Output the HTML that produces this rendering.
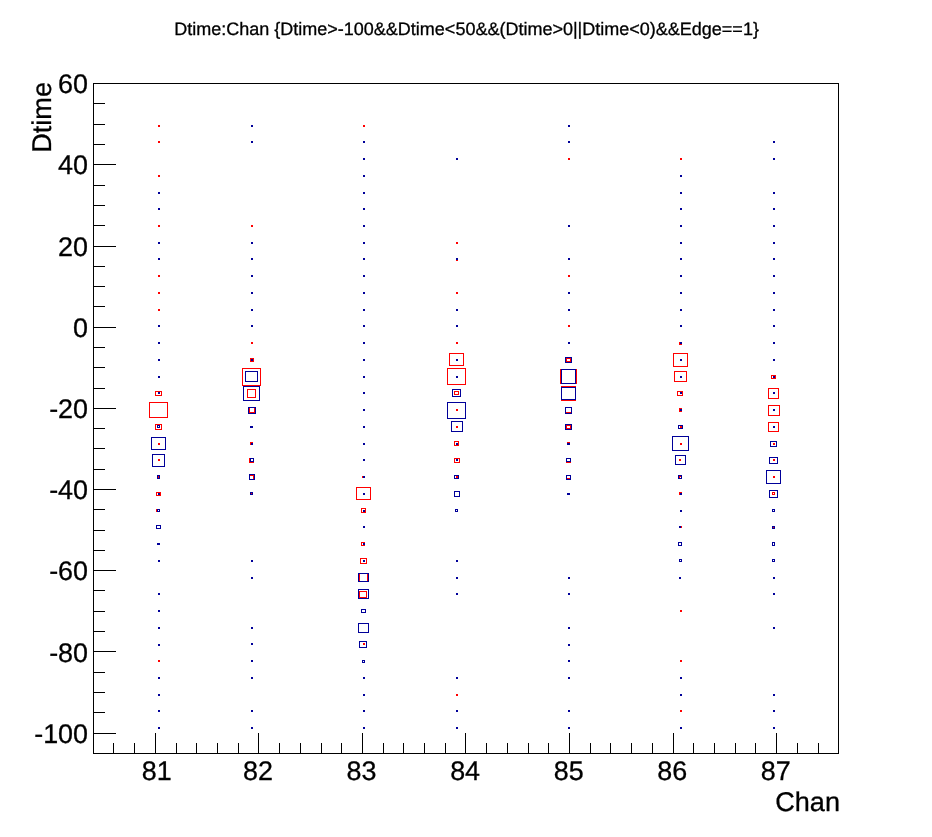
<!DOCTYPE html>
<html><head><meta charset="utf-8"><title>Dtime:Chan</title>
<style>html,body{margin:0;padding:0;background:#fff;}body{width:932px;height:837px;overflow:hidden;font-family:"Liberation Sans",sans-serif;}svg{display:block;will-change:transform;}</style>
</head><body>
<svg width="932" height="837" viewBox="0 0 932 837" shape-rendering="crispEdges">
<rect width="932" height="837" fill="#fff"/>
<path fill="#000" d="M93 83h746v671h-746zM94 84v669h744v-669z"/>
<path fill="#000" d="M113 743h1v10h-1zM134 743h1v10h-1zM155 733h1v20h-1zM176 743h1v10h-1zM196 743h1v10h-1zM217 743h1v10h-1zM238 743h1v10h-1zM258 733h1v20h-1zM279 743h1v10h-1zM300 743h1v10h-1zM321 743h1v10h-1zM341 743h1v10h-1zM362 733h1v20h-1zM383 743h1v10h-1zM403 743h1v10h-1zM424 743h1v10h-1zM445 743h1v10h-1zM465 733h1v20h-1zM486 743h1v10h-1zM507 743h1v10h-1zM528 743h1v10h-1zM548 743h1v10h-1zM569 733h1v20h-1zM590 743h1v10h-1zM610 743h1v10h-1zM631 743h1v10h-1zM652 743h1v10h-1zM673 733h1v20h-1zM693 743h1v10h-1zM714 743h1v10h-1zM735 743h1v10h-1zM755 743h1v10h-1zM776 733h1v20h-1zM797 743h1v10h-1zM818 743h1v10h-1zM94 83h22v1h-22zM94 103h11v1h-11zM94 124h11v1h-11zM94 144h11v1h-11zM94 164h22v1h-22zM94 185h11v1h-11zM94 205h11v1h-11zM94 225h11v1h-11zM94 246h22v1h-22zM94 266h11v1h-11zM94 286h11v1h-11zM94 306h11v1h-11zM94 327h22v1h-22zM94 347h11v1h-11zM94 367h11v1h-11zM94 388h11v1h-11zM94 408h22v1h-22zM94 428h11v1h-11zM94 448h11v1h-11zM94 469h11v1h-11zM94 489h22v1h-22zM94 509h11v1h-11zM94 530h11v1h-11zM94 550h11v1h-11zM94 570h22v1h-22zM94 590h11v1h-11zM94 611h11v1h-11zM94 631h11v1h-11zM94 651h22v1h-22zM94 672h11v1h-11zM94 692h11v1h-11zM94 712h11v1h-11zM94 733h22v1h-22z"/>
<path fill="#ff0000" d="M158 125h2v2h-2zM158 141h2v2h-2zM158 175h2v2h-2zM158 225h2v2h-2zM158 275h2v2h-2zM158 292h2v2h-2zM158 309h2v2h-2zM158 443h2v2h-2zM158 459h2v2h-2zM158 476h2v2h-2zM158 660h2v2h-2zM155 391h7v5h-7zM156 392v3h5v-3zM149 402h19v16h-19zM150 403v14h17v-14zM155 424h7v6h-7zM156 425v4h5v-4zM156 492h5v4h-5zM157 493v2h3v-2zM156 509h4v3h-4zM157 510v1h2v-1zM251 225h2v2h-2zM251 342h2v2h-2zM251 493h2v2h-2zM250 358h4v4h-4zM251 359v2h2v-2zM242 368h19v18h-19zM243 369v16h17v-16zM247 389h9v9h-9zM248 390v7h7v-7zM249 407h6v6h-6zM250 408v4h4v-4zM250 442h3v3h-3zM249 458h5v5h-5zM250 459v3h3v-3zM249 475h5v5h-5zM250 476v3h3v-3zM363 125h2v2h-2zM363 643h2v2h-2zM362 476h3v2h-3zM356 487h15v13h-15zM357 488v11h13v-11zM361 508h5v5h-5zM362 509v3h3v-3zM361 542h4v4h-4zM362 543v2h2v-2zM360 558h7v6h-7zM361 559v4h5v-4zM359 573h9v9h-9zM360 574v7h7v-7zM359 591h8v7h-8zM360 592v5h6v-5zM456 242h2v2h-2zM456 292h2v2h-2zM456 342h2v2h-2zM456 409h2v2h-2zM456 426h2v2h-2zM456 476h2v2h-2zM456 694h2v2h-2zM456 258h2v3h-2zM449 353h15v13h-15zM450 354v11h13v-11zM447 368h19v17h-19zM448 369v15h17v-15zM454 391h5v4h-5zM455 392v2h3v-2zM454 441h5v5h-5zM455 442v3h3v-3zM454 458h6v5h-6zM455 459v3h4v-3zM568 158h2v2h-2zM568 275h2v2h-2zM568 325h2v2h-2zM566 358h5v4h-5zM567 359v2h3v-2zM560 369h17v15h-17zM561 370v13h15v-13zM561 386h15v15h-15zM562 387v13h13v-13zM566 412h5v1h-5zM566 425h5v4h-5zM567 426v2h3v-2zM567 442h3v3h-3zM566 458h5v5h-5zM567 459v3h3v-3zM567 478h3v1h-3zM680 158h2v2h-2zM680 610h2v2h-2zM680 660h2v2h-2zM680 710h2v2h-2zM680 426h2v2h-2zM680 443h2v2h-2zM679 342h3v3h-3zM673 353h15v14h-15zM674 354v12h13v-12zM674 371h13v11h-13zM675 372v9h11v-9zM677 391h6v5h-6zM678 392v3h4v-3zM679 408h3v4h-3zM679 459h2v2h-2zM679 476h2v1h-2zM679 477h1v1h-1zM679 492h3v3h-3zM679 526h3v2h-3zM773 443h2v2h-2zM773 459h2v2h-2zM773 476h2v2h-2zM773 526h2v2h-2zM771 375h5v4h-5zM772 376v2h3v-2zM768 388h11v11h-11zM769 389v9h9v-9zM768 405h12v11h-12zM769 406v9h10v-9zM768 422h11v10h-11zM769 423v8h9v-8zM772 492h3v3h-3zM773 493v1h1v-1z"/>
<path fill="#000099" d="M158 192h2v2h-2zM158 208h2v2h-2zM158 242h2v2h-2zM158 258h2v2h-2zM158 325h2v2h-2zM158 342h2v2h-2zM158 359h2v2h-2zM158 376h2v2h-2zM158 392h2v2h-2zM158 493h2v2h-2zM158 560h2v2h-2zM158 593h2v2h-2zM158 610h2v2h-2zM158 627h2v2h-2zM158 644h2v2h-2zM158 677h2v2h-2zM158 694h2v2h-2zM158 710h2v2h-2zM158 727h2v2h-2zM157 425h3v3h-3zM158 426v1h1v-1zM151 437h15v13h-15zM152 438v11h13v-11zM152 454h13v13h-13zM153 455v11h11v-11zM157 475h3v4h-3zM158 476v2h1v-2zM157 509h3v3h-3zM158 510v1h1v-1zM156 525h5v4h-5zM157 526v2h3v-2zM157 543h3v2h-3zM251 125h2v2h-2zM251 141h2v2h-2zM251 242h2v2h-2zM251 258h2v2h-2zM251 275h2v2h-2zM251 292h2v2h-2zM251 309h2v2h-2zM251 325h2v2h-2zM251 359h2v2h-2zM251 560h2v2h-2zM251 577h2v2h-2zM251 627h2v2h-2zM251 643h2v2h-2zM251 660h2v2h-2zM251 677h2v2h-2zM251 710h2v2h-2zM251 727h2v2h-2zM245 371h13v11h-13zM246 372v9h11v-9zM243 386h17v15h-17zM244 387v13h15v-13zM248 407h8v7h-8zM249 408v5h6v-5zM250 426h3v2h-3zM251 443h2v2h-2zM250 458h4v4h-4zM251 459v2h2v-2zM249 474h6v6h-6zM250 475v4h4v-4zM250 492h3v3h-3zM251 493v1h1v-1zM363 459h2v2h-2zM363 443h2v2h-2zM363 426h2v2h-2zM363 409h2v2h-2zM363 392h2v2h-2zM363 376h2v2h-2zM363 359h2v2h-2zM363 342h2v2h-2zM363 325h2v2h-2zM363 309h2v2h-2zM363 292h2v2h-2zM363 275h2v2h-2zM363 258h2v2h-2zM363 242h2v2h-2zM363 225h2v2h-2zM363 208h2v2h-2zM363 192h2v2h-2zM363 175h2v2h-2zM363 158h2v2h-2zM363 141h2v2h-2zM363 476h2v2h-2zM363 493h2v2h-2zM363 526h2v2h-2zM363 560h2v2h-2zM363 677h2v2h-2zM363 694h2v2h-2zM363 710h2v2h-2zM363 727h2v2h-2zM363 510h2v2h-2zM363 543h2v2h-2zM358 573h11v9h-11zM359 574v7h9v-7zM358 589h11v10h-11zM359 590v8h9v-8zM361 609h5v4h-5zM362 610v2h3v-2zM358 623h11v10h-11zM359 624v8h9v-8zM359 641h8v7h-8zM360 642v5h6v-5zM362 660h3v3h-3zM363 661v1h1v-1zM456 158h2v2h-2zM456 258h2v2h-2zM456 309h2v2h-2zM456 325h2v2h-2zM456 359h2v2h-2zM456 376h2v2h-2zM456 443h2v2h-2zM456 459h2v2h-2zM456 560h2v2h-2zM456 577h2v2h-2zM456 593h2v2h-2zM456 677h2v2h-2zM456 710h2v2h-2zM456 727h2v2h-2zM452 389h9v8h-9zM453 390v6h7v-6zM447 402h19v17h-19zM448 403v15h17v-15zM451 421h12v11h-12zM452 422v9h10v-9zM454 475h5v4h-5zM455 476v2h3v-2zM454 491h6v6h-6zM455 492v4h4v-4zM455 509h3v3h-3zM456 510v1h1v-1zM568 125h2v2h-2zM568 141h2v2h-2zM568 225h2v2h-2zM568 258h2v2h-2zM568 292h2v2h-2zM568 309h2v2h-2zM568 342h2v2h-2zM568 577h2v2h-2zM568 593h2v2h-2zM568 627h2v2h-2zM568 644h2v2h-2zM568 660h2v2h-2zM568 677h2v2h-2zM568 710h2v2h-2zM568 727h2v2h-2zM565 357h7v6h-7zM566 358v4h5v-4zM561 369h15v15h-15zM562 370v13h13v-13zM561 387h15v13h-15zM562 388v11h13v-11zM565 407h7v7h-7zM566 408v5h5v-5zM565 424h7v6h-7zM566 425v4h5v-4zM567 443h3v2h-3zM566 458h5v4h-5zM567 459v2h3v-2zM566 475h5v5h-5zM567 476v3h3v-3zM567 493h3v2h-3zM680 677h2v2h-2zM680 694h2v2h-2zM680 727h2v2h-2zM680 510h2v2h-2zM680 325h2v2h-2zM680 309h2v2h-2zM680 292h2v2h-2zM680 275h2v2h-2zM680 258h2v2h-2zM680 242h2v2h-2zM680 225h2v2h-2zM680 208h2v2h-2zM680 192h2v2h-2zM680 175h2v2h-2zM680 359h2v2h-2zM680 376h2v2h-2zM680 392h2v2h-2zM680 342h2v2h-2zM680 409h2v2h-2zM678 425h5v4h-5zM679 426v2h3v-2zM672 436h17v15h-17zM673 437v13h15v-13zM675 455h11v10h-11zM676 456v8h9v-8zM678 475h4v4h-4zM679 476v2h2v-2zM680 493h2v2h-2zM679 526h2v2h-2zM678 542h4v4h-4zM679 543v2h2v-2zM679 559h3v3h-3zM680 560v1h1v-1zM679 577h2v2h-2zM773 141h2v2h-2zM773 158h2v2h-2zM773 192h2v2h-2zM773 208h2v2h-2zM773 225h2v2h-2zM773 242h2v2h-2zM773 258h2v2h-2zM773 275h2v2h-2zM773 292h2v2h-2zM773 309h2v2h-2zM773 325h2v2h-2zM773 342h2v2h-2zM773 359h2v2h-2zM773 376h2v2h-2zM773 392h2v2h-2zM773 409h2v2h-2zM773 426h2v2h-2zM773 577h2v2h-2zM773 593h2v2h-2zM773 627h2v2h-2zM773 694h2v2h-2zM773 710h2v2h-2zM773 727h2v2h-2zM770 441h7v6h-7zM771 442v4h5v-4zM769 457h9v7h-9zM770 458v5h7v-5zM766 470h15v14h-15zM767 471v12h13v-12zM769 490h9v8h-9zM770 491v6h7v-6zM772 509h3v3h-3zM773 510v1h1v-1zM772 526h3v3h-3zM773 527v1h1v-1zM772 542h3v4h-3zM773 543v2h1v-2zM772 559h3v3h-3zM773 560v1h1v-1z"/>
<g font-family="Liberation Sans, sans-serif" fill="#000" stroke="#000" stroke-width="0.3" shape-rendering="auto" text-rendering="geometricPrecision">
<text x="88" y="93.2" font-size="26.9" text-anchor="end">60</text>
<text x="88" y="174.3" font-size="26.9" text-anchor="end">40</text>
<text x="88" y="255.5" font-size="26.9" text-anchor="end">20</text>
<text x="88" y="336.7" font-size="26.9" text-anchor="end">0</text>
<text x="88" y="417.9" font-size="26.9" text-anchor="end">-20</text>
<text x="88" y="499.1" font-size="26.9" text-anchor="end">-40</text>
<text x="88" y="580.3" font-size="26.9" text-anchor="end">-60</text>
<text x="88" y="661.5" font-size="26.9" text-anchor="end">-80</text>
<text x="88" y="742.6" font-size="26.9" text-anchor="end">-100</text>
<text x="156.7" y="780.4" font-size="26.9" text-anchor="middle">81</text>
<text x="258.0" y="780.4" font-size="26.9" text-anchor="middle">82</text>
<text x="361.5" y="780.4" font-size="26.9" text-anchor="middle">83</text>
<text x="465.1" y="780.4" font-size="26.9" text-anchor="middle">84</text>
<text x="568.7" y="780.4" font-size="26.9" text-anchor="middle">85</text>
<text x="672.2" y="780.4" font-size="26.9" text-anchor="middle">86</text>
<text x="775.8" y="780.4" font-size="26.9" text-anchor="middle">87</text>
<text x="840" y="810.8" font-size="27.1" text-anchor="end">Chan</text>
<text transform="translate(51.2,82.0) rotate(-90)" font-size="27.1" text-anchor="end">Dtime</text>
<text x="466.6" y="34.8" font-size="18" text-anchor="middle">Dtime:Chan {Dtime&gt;-100&amp;&amp;Dtime&lt;50&amp;&amp;(Dtime&gt;0||Dtime&lt;0)&amp;&amp;Edge==1}</text>
</g>
</svg>
</body></html>
